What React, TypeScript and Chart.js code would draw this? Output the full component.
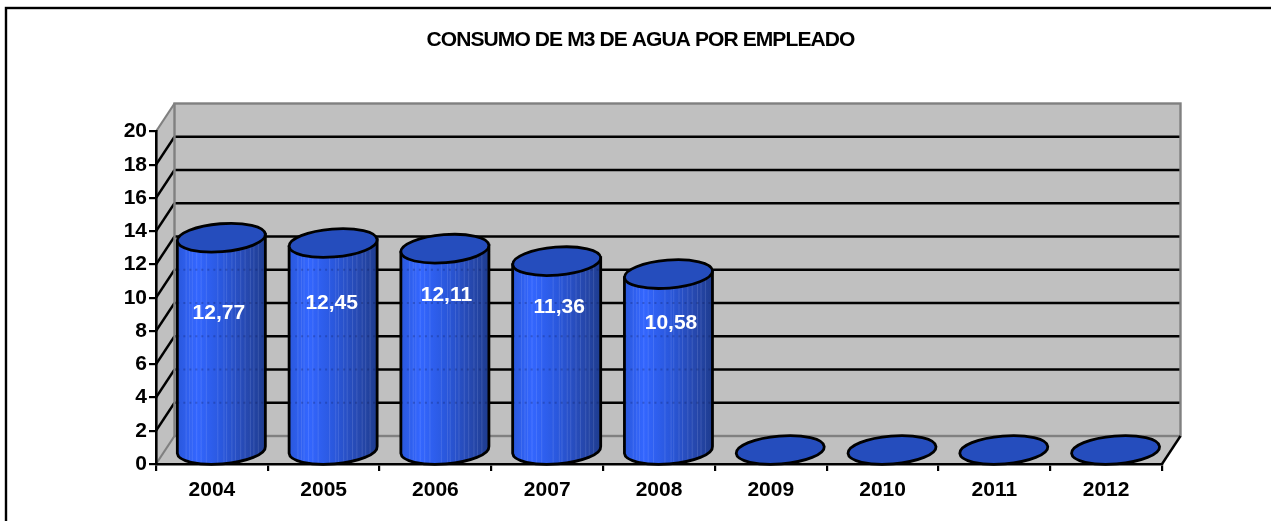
import React, { useEffect, useRef } from "react";
import { Chart, registerables } from "chart.js";

Chart.register(...registerables);

const titleText = "CONSUMO DE M3 DE AGUA POR EMPLEADO";
const years = ["2004", "2005", "2006", "2007", "2008", "2009", "2010", "2011", "2012"];
const consumption = [12.77, 12.45, 12.11, 11.36, 10.58, 0, 0, 0, 0];
// height on the value axis at which each hand-placed data label sits, and its sideways nudge
const labelLevels = [9.1, 9.66, 10.13, 9.46, 8.45, null, null, null, null];
const labelNudges = [7, 8, 11, 12, 12, 0, 0, 0, 0];

const FONT = "'Liberation Sans', Arial, sans-serif";
const DEPTH_X = 18.5;
const DEPTH_Y = 28;
const WALL = "#c0c0c0";
const WALL_EDGE = "#808080";
const CAP = "#254dbd";
const RY = 14;
const TILT = (-4.5 * Math.PI) / 180;
const STRIPES = [0.1, 0.14, 0.17, 0.22, 0.27, 0.33, 0.46, 0.53, 0.56, 0.62, 0.66, 0.72, 0.77, 0.83, 0.87, 0.92];

const line = (ctx: CanvasRenderingContext2D, x1: number, y1: number, x2: number, y2: number, color: string, w: number) => {
  ctx.strokeStyle = color;
  ctx.lineWidth = w;
  ctx.beginPath();
  ctx.moveTo(x1, y1);
  ctx.lineTo(x2, y2);
  ctx.stroke();
};

const scenePlugin = {
  id: "scene3d",
  beforeDraw(chart: any) {
    const { ctx, chartArea: a, scales } = chart;
    const y = scales.y;
    const tb = chart.titleBlock;
    if (tb && !tb.__spaced) {
      const orig = tb.draw;
      tb.draw = function () {
        (ctx as any).letterSpacing = "-0.9px";
        orig.call(tb);
        (ctx as any).letterSpacing = "0px";
      };
      tb.__spaced = true;
    }
    ctx.save();
    ctx.fillStyle = "#fff";
    ctx.fillRect(0, 0, chart.width, chart.height);
    // outer frame, running off the page on the right and at the bottom
    ctx.strokeStyle = "#000";
    ctx.lineWidth = 2.4;
    ctx.strokeRect(6, 8, chart.width + 40, chart.height + 40);

    const bx = a.left + DEPTH_X;
    const bt = a.top - DEPTH_Y;
    const bb = a.bottom - DEPTH_Y;
    const br = a.right + DEPTH_X;
    ctx.fillStyle = WALL;
    ctx.fillRect(bx, bt, br - bx, bb - bt);
    ctx.beginPath();
    ctx.moveTo(a.left, a.top);
    ctx.lineTo(bx, bt);
    ctx.lineTo(bx, bb);
    ctx.lineTo(a.left, a.bottom);
    ctx.closePath();
    ctx.fill();
    ctx.beginPath();
    ctx.moveTo(a.left, a.bottom);
    ctx.lineTo(a.right, a.bottom);
    ctx.lineTo(br, bb);
    ctx.lineTo(bx, bb);
    ctx.closePath();
    ctx.fill();

    y.ticks.forEach((t: any) => {
      if (t.value === y.min || t.value === y.max) return;
      const py = y.getPixelForValue(t.value);
      line(ctx, a.left, py, bx, py - DEPTH_Y, "#000", 2.4);
      line(ctx, bx, py - DEPTH_Y, br, py - DEPTH_Y, "#000", 2.4);
    });
    ctx.strokeStyle = WALL_EDGE;
    ctx.lineWidth = 2.4;
    ctx.strokeRect(bx, bt, br - bx, bb - bt);
    line(ctx, a.left, a.top, bx, bt, WALL_EDGE, 2.2);
    line(ctx, a.left, a.bottom, bx, bb, WALL_EDGE, 2.2);
    line(ctx, a.right, a.bottom, br, bb, "#000", 2.4);
    ctx.restore();
  },
  beforeDatasetsDraw(chart: any) {
    const { ctx, scales } = chart;
    const y = scales.y;
    const meta = chart.getDatasetMeta(0);
    ctx.save();
    meta.data.forEach((el: any, i: number) => {
      const cx = el.x + DEPTH_X / 2 + 0.2;
      const rx = el.width / 2;
      const topY = y.getPixelForValue(consumption[i]) - RY;
      const baseY = y.getPixelForValue(0) - RY;
      const ex = rx * Math.cos(TILT);
      const ey = rx * Math.sin(TILT);
      if (consumption[i] > 0) {
        const body = new Path2D();
        body.moveTo(cx - ex, topY - ey);
        body.lineTo(cx - ex, baseY - ey);
        body.ellipse(cx, baseY, rx, RY, TILT, Math.PI, 0, true);
        body.lineTo(cx + ex, topY + ey);
        body.closePath();
        const g = ctx.createLinearGradient(cx - ex, 0, cx + ex, 0);
        g.addColorStop(0, "#2a58dc");
        g.addColorStop(0.22, "#3366ff");
        g.addColorStop(0.5, "#2a58de");
        g.addColorStop(0.8, "#2648ae");
        g.addColorStop(1, "#1e3c8f");
        ctx.fillStyle = g;
        ctx.fill(body);
        ctx.save();
        ctx.clip(body);
        STRIPES.forEach((f) => {
          line(ctx, cx - ex + 2 * ex * f, topY - RY * 2, cx - ex + 2 * ex * f, baseY + RY * 2, "rgba(190,205,255,0.16)", 1);
        });
        ctx.setLineDash([2, 4]);
        y.ticks.forEach((t: any) => {
          if (t.value === y.min || t.value === y.max) return;
          const py = y.getPixelForValue(t.value) - DEPTH_Y;
          line(ctx, cx - ex, py, cx + ex, py, "rgba(10,20,70,0.25)", 2);
        });
        ctx.restore();
        ctx.strokeStyle = "#000";
        ctx.lineWidth = 2.8;
        ctx.stroke(body);
      }
      ctx.beginPath();
      ctx.ellipse(cx, topY, rx, RY, TILT, 0, Math.PI * 2);
      ctx.fillStyle = CAP;
      ctx.fill();
      ctx.strokeStyle = "#000";
      ctx.lineWidth = 2.8;
      ctx.stroke();
    });
    ctx.fillStyle = "#fff";
    ctx.font = `bold 21px ${FONT}`;
    ctx.textAlign = "center";
    ctx.textBaseline = "middle";
    meta.data.forEach((el: any, i: number) => {
      const level = labelLevels[i];
      if (level === null) return;
      ctx.fillText(consumption[i].toFixed(2).replace(".", ","), el.x + labelNudges[i], y.getPixelForValue(level));
    });
    ctx.restore();
  },
};

export default function App() {
  const ref = useRef<HTMLCanvasElement>(null);
  useEffect(() => {
    const chart = new Chart(ref.current!, {
      type: "bar",
      data: {
        labels: years,
        datasets: [
          {
            label: titleText,
            data: consumption,
            backgroundColor: "transparent",
            borderWidth: 0,
            barPercentage: 0.79,
            categoryPercentage: 1,
          },
        ],
      },
      options: {
        animation: false,
        responsive: false,
        layout: { padding: { left: 119, right: 109, top: 0, bottom: 0 } },
        plugins: {
          legend: { display: false },
          tooltip: { enabled: false },
          title: {
            display: true,
            text: titleText,
            color: "#000",
            font: { family: FONT, size: 21, weight: "bold" },
            padding: { top: 27.4, bottom: 78.9 },
          },
        },
        scales: {
          x: {
            type: "category",
            afterFit: (s: any) => {
              s.height = 57;
            },
            grid: { drawOnChartArea: false, drawTicks: true, tickLength: 7, color: "#000", lineWidth: 2.2 },
            border: { display: true, color: "#000", width: 2.6 },
            ticks: {
              color: "#000",
              font: { family: FONT, size: 21, weight: "bold" },
              padding: 7,
              maxRotation: 0,
              autoSkip: false,
            },
          },
          y: {
            min: 0,
            max: 20,
            afterFit: (s: any) => {
              s.width = 37;
            },
            grid: { drawOnChartArea: false, drawTicks: true, tickLength: 7, color: "#000", lineWidth: 2.2 },
            border: { display: true, color: "#000", width: 2.6 },
            ticks: {
              stepSize: 2,
              color: "#000",
              font: { family: FONT, size: 21, weight: "bold" },
              padding: 2,
            },
          },
        },
      },
      plugins: [scenePlugin],
    } as any);
    return () => chart.destroy();
  }, []);
  return (
    <div style={{ position: "absolute", left: 0, top: 0, width: 1271, height: 521 }}>
      <canvas ref={ref} width={1271} height={521} style={{ display: "block" }} />
    </div>
  );
}
